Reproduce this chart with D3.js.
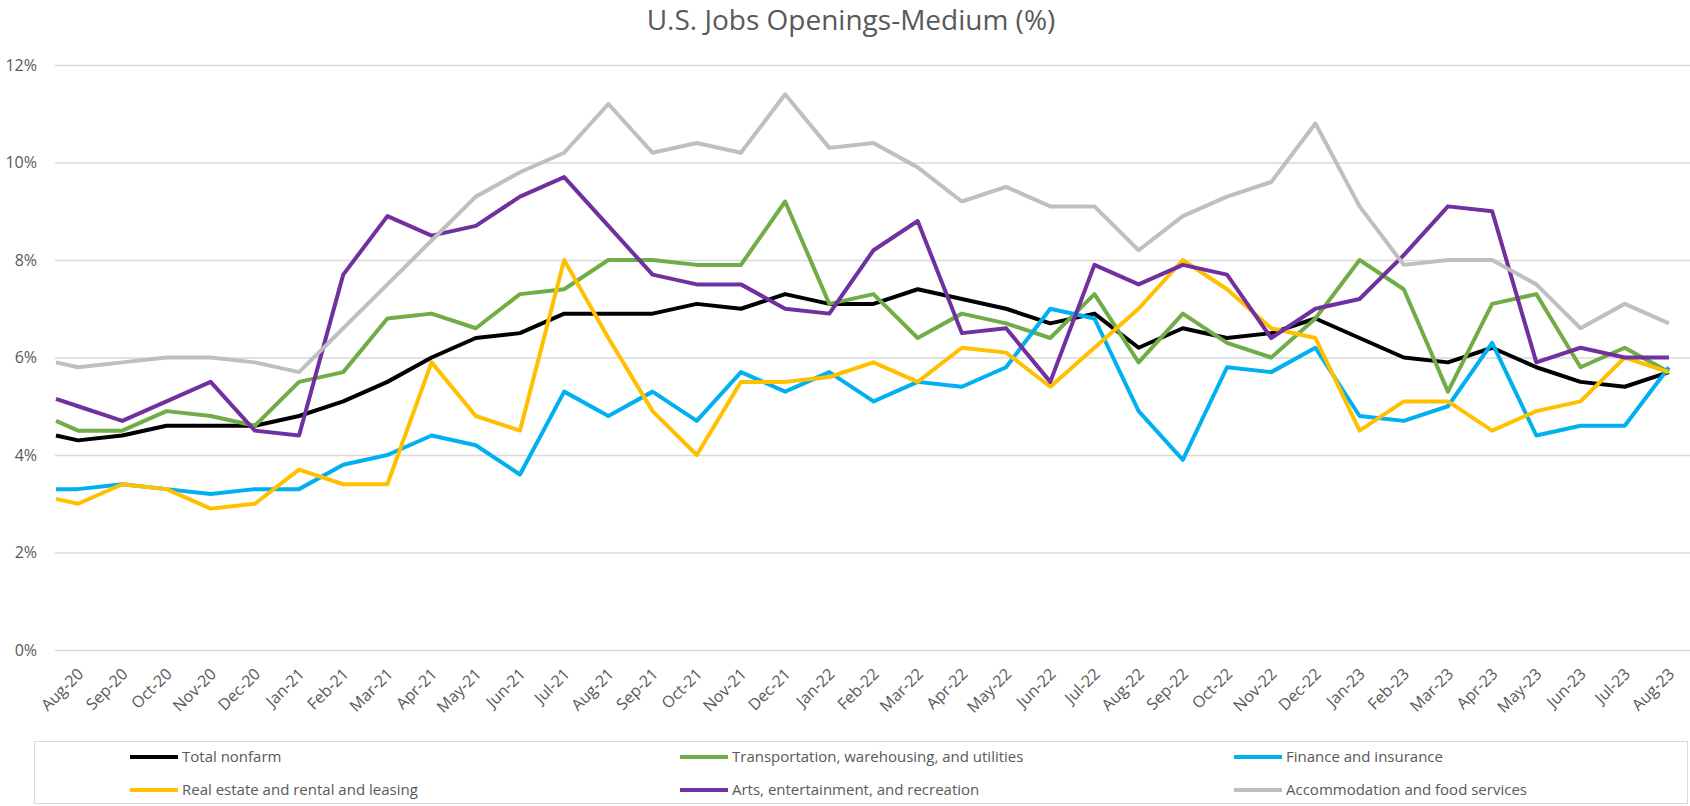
<!DOCTYPE html>
<html>
<head>
<meta charset="utf-8">
<script src="https://cdn.jsdelivr.net/npm/d3@7"></script>
<style>
  body { margin: 0; background: #fff; }
  svg { display: block; font-family: 'Open Sans', sans-serif; }
</style>
</head>
<body>
<svg id="chart"></svg>
<script>
// month labels on the x axis
const months = ['Aug-20', 'Sep-20', 'Oct-20', 'Nov-20', 'Dec-20', 'Jan-21', 'Feb-21', 'Mar-21',
  'Apr-21', 'May-21', 'Jun-21', 'Jul-21', 'Aug-21', 'Sep-21', 'Oct-21', 'Nov-21', 'Dec-21',
  'Jan-22', 'Feb-22', 'Mar-22', 'Apr-22', 'May-22', 'Jun-22', 'Jul-22', 'Aug-22', 'Sep-22',
  'Oct-22', 'Nov-22', 'Dec-22', 'Jan-23', 'Feb-23', 'Mar-23', 'Apr-23', 'May-23', 'Jun-23',
  'Jul-23', 'Aug-23'];

// position of each point in month units; the first value sits on the left edge of the plot
const pointPos = [-0.5, ...months.map((m, i) => i)];

const seriesNames = ['Total nonfarm', 'Transportation, warehousing, and utilities',
  'Finance and insurance', 'Real estate and rental and leasing',
  'Arts, entertainment, and recreation', 'Accommodation and food services'];

const totalNonfarm = [4.4, 4.3, 4.4, 4.6, 4.6, 4.6, 4.8, 5.1, 5.5, 6.0, 6.4, 6.5, 6.9, 6.9, 6.9,
  7.1, 7.0, 7.3, 7.1, 7.1, 7.4, 7.2, 7.0, 6.7, 6.9, 6.2, 6.6, 6.4, 6.5, 6.8, 6.4, 6.0, 5.9,
  6.2, 5.8, 5.5, 5.4, 5.7];
const transportation = [4.7, 4.5, 4.5, 4.9, 4.8, 4.6, 5.5, 5.7, 6.8, 6.9, 6.6, 7.3, 7.4, 8.0,
  8.0, 7.9, 7.9, 9.2, 7.1, 7.3, 6.4, 6.9, 6.7, 6.4, 7.3, 5.9, 6.9, 6.3, 6.0, 6.8, 8.0, 7.4,
  5.3, 7.1, 7.3, 5.8, 6.2, 5.7];
const finance = [3.3, 3.3, 3.4, 3.3, 3.2, 3.3, 3.3, 3.8, 4.0, 4.4, 4.2, 3.6, 5.3, 4.8, 5.3,
  4.7, 5.7, 5.3, 5.7, 5.1, 5.5, 5.4, 5.8, 7.0, 6.8, 4.9, 3.9, 5.8, 5.7, 6.2, 4.8, 4.7, 5.0,
  6.3, 4.4, 4.6, 4.6, 5.8];
const realEstate = [3.1, 3.0, 3.4, 3.3, 2.9, 3.0, 3.7, 3.4, 3.4, 5.9, 4.8, 4.5, 8.0, 6.4, 4.9,
  4.0, 5.5, 5.5, 5.6, 5.9, 5.5, 6.2, 6.1, 5.4, 6.2, 7.0, 8.0, 7.4, 6.6, 6.4, 4.5, 5.1, 5.1,
  4.5, 4.9, 5.1, 6.0, 5.7];
const arts = [5.15, 5.0, 4.7, 5.1, 5.5, 4.5, 4.4, 7.7, 8.9, 8.5, 8.7, 9.3, 9.7, 8.7, 7.7, 7.5,
  7.5, 7.0, 6.9, 8.2, 8.8, 6.5, 6.6, 5.5, 7.9, 7.5, 7.9, 7.7, 6.4, 7.0, 7.2, 8.1, 9.1, 9.0,
  5.9, 6.2, 6.0, 6.0];
const accommodation = [5.9, 5.8, 5.9, 6.0, 6.0, 5.9, 5.7, 6.6, 7.5, 8.4, 9.3, 9.8, 10.2, 11.2,
  10.2, 10.4, 10.2, 11.4, 10.3, 10.4, 9.9, 9.2, 9.5, 9.1, 9.1, 8.2, 8.9, 9.3, 9.6, 10.8, 9.1,
  7.9, 8.0, 8.0, 7.5, 6.6, 7.1, 6.7];

const yTicks = [0, 2, 4, 6, 8, 10, 12];

const colors = ['#000000', '#70AD47', '#00B0F0', '#FFC000', '#7030A0', '#BFBFBF'];
const allValues = [totalNonfarm, transportation, finance, realEstate, arts, accommodation];

const width = 1690;
const height = 806;
const plot = {left: 55, right: 1690, top: 65, bottom: 650};

const x = d3.scaleLinear()
  .domain([-0.5, months.length - 0.5])
  .range([plot.left + 1, plot.right + 1]);

const y = d3.scaleLinear()
  .domain([0, 12])
  .range([plot.bottom, plot.top]);

const svg = d3.select('#chart')
  .attr('width', width)
  .attr('height', height);

svg.append('text')
  .attr('x', 851)
  .attr('y', 30)
  .attr('text-anchor', 'middle')
  .attr('font-size', 28)
  .attr('fill', '#595959')
  .text('U.S. Jobs Openings-Medium (%)');

// horizontal gridlines and percent labels
const yAxis = svg.append('g')
  .attr('transform', `translate(${plot.left}, 0)`)
  .call(d3.axisLeft(y)
    .tickValues(yTicks)
    .tickSize(-(plot.right - plot.left))
    .tickPadding(18)
    .tickFormat(d => d + '%'));
yAxis.select('.domain').remove();
yAxis.selectAll('line').attr('stroke', '#d9d9d9').attr('stroke-width', 1.5);
yAxis.selectAll('text')
  .attr('font-size', 16)
  .attr('font-family', "'Open Sans', sans-serif")
  .attr('fill', '#595959');

// month labels, rotated
const xAxis = svg.append('g')
  .attr('transform', `translate(0, ${plot.bottom})`)
  .call(d3.axisBottom(x)
    .tickValues(months.map((m, i) => i))
    .tickSize(0)
    .tickFormat(i => months[i]));
xAxis.select('.domain').remove();
xAxis.selectAll('text')
  .attr('font-size', 16)
  .attr('font-family', "'Open Sans', sans-serif")
  .attr('fill', '#595959')
  .attr('text-anchor', 'end')
  .attr('transform', 'translate(2, 21) rotate(-45)')
  .attr('y', 0)
  .attr('dy', '0.35em');

const line = d3.line()
  .x((d, i) => x(pointPos[i]))
  .y(d => y(d));

svg.append('g')
  .selectAll('path')
  .data(allValues)
  .join('path')
  .attr('d', line)
  .attr('fill', 'none')
  .attr('stroke', (d, i) => colors[i])
  .attr('stroke-width', 4)
  .attr('stroke-linejoin', 'round');

// legend
svg.append('rect')
  .attr('x', 34.5)
  .attr('y', 741.5)
  .attr('width', 1653)
  .attr('height', 62)
  .attr('fill', 'none')
  .attr('stroke', '#d9d9d9');

const legendCols = [130, 680, 1234];
const legendRows = [757, 790];

const item = svg.append('g')
  .selectAll('g')
  .data(seriesNames)
  .join('g')
  .attr('transform', (d, i) =>
    `translate(${legendCols[i % 3]}, ${legendRows[Math.floor(i / 3)]})`);

item.append('line')
  .attr('x1', 0)
  .attr('x2', 48)
  .attr('stroke', (d, i) => colors[i])
  .attr('stroke-width', 4);

item.append('text')
  .attr('x', 52)
  .attr('dy', '0.35em')
  .attr('font-size', 15)
  .attr('fill', '#595959')
  .text(d => d);
</script>
</body>
</html>
